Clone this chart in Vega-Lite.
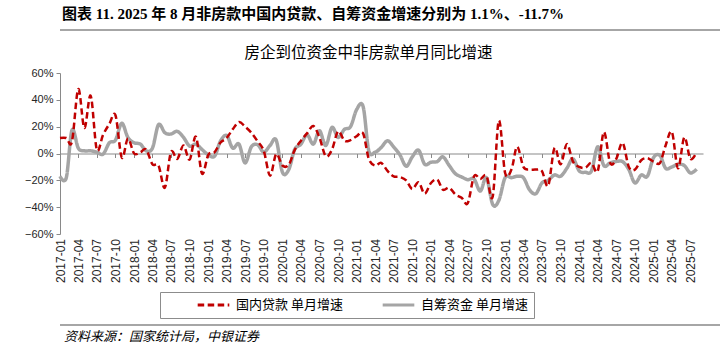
{
  "$schema": "https://vega.github.io/schema/vega-lite/v6.json",
  "padding": {"left": 18, "top": 7, "right": 0, "bottom": 0},
  "background": "white",
  "config": {
    "font": "Liberation Sans",
    "view": {"stroke": null},
    "axis": {"labelColor": "#262626", "domainColor": "#898989", "tickColor": "#898989", "grid": false},
    "legend": {"strokeWidth": 1}
  },
  "datasets": {
    "loans": [
      {"month":"2017-01","value":11.5},{"month":"2017-02","value":11.5},{"month":"2017-03","value":9},{"month":"2017-04","value":48},{"month":"2017-05","value":19},{"month":"2017-06","value":43},{"month":"2017-07","value":3},{"month":"2017-08","value":14},{"month":"2017-09","value":22},{"month":"2017-10","value":28.5},{"month":"2017-11","value":-3},{"month":"2017-12","value":11},
      {"month":"2018-01","value":0},{"month":"2018-02","value":1},{"month":"2018-03","value":3},{"month":"2018-04","value":-8},{"month":"2018-05","value":-9},{"month":"2018-06","value":-25.5},{"month":"2018-07","value":1},{"month":"2018-08","value":-4},{"month":"2018-09","value":6},{"month":"2018-10","value":-4.5},{"month":"2018-11","value":12.5},{"month":"2018-12","value":-15},
      {"month":"2019-01","value":-1},{"month":"2019-02","value":1},{"month":"2019-03","value":8},{"month":"2019-04","value":11.5},{"month":"2019-05","value":18},{"month":"2019-06","value":23.5},{"month":"2019-07","value":20},{"month":"2019-08","value":15.5},{"month":"2019-09","value":9},{"month":"2019-10","value":2},{"month":"2019-11","value":-16.5},{"month":"2019-12","value":-0.5},
      {"month":"2020-01","value":-9},{"month":"2020-02","value":-8.5},{"month":"2020-03","value":2.5},{"month":"2020-04","value":9.5},{"month":"2020-05","value":15},{"month":"2020-06","value":20.5},{"month":"2020-07","value":12},{"month":"2020-08","value":-2},{"month":"2020-09","value":3},{"month":"2020-10","value":16.5},{"month":"2020-11","value":9.5},{"month":"2020-12","value":10},
      {"month":"2021-01","value":13},{"month":"2021-02","value":15},{"month":"2021-03","value":-4},{"month":"2021-04","value":-9},{"month":"2021-05","value":-7},{"month":"2021-06","value":-13},{"month":"2021-07","value":-17},{"month":"2021-08","value":-17.5},{"month":"2021-09","value":-20},{"month":"2021-10","value":-26.5},{"month":"2021-11","value":-21.5},{"month":"2021-12","value":-30},
      {"month":"2022-01","value":-22},{"month":"2022-02","value":-19.5},{"month":"2022-03","value":-27},{"month":"2022-04","value":-25.5},{"month":"2022-05","value":-30.5},{"month":"2022-06","value":-33},{"month":"2022-07","value":-37},{"month":"2022-08","value":-17},{"month":"2022-09","value":-19},{"month":"2022-10","value":-16.5},{"month":"2022-11","value":-32},{"month":"2022-12","value":24.5},
      {"month":"2023-01","value":-14.5},{"month":"2023-02","value":-12},{"month":"2023-03","value":5},{"month":"2023-04","value":-10},{"month":"2023-05","value":-12},{"month":"2023-06","value":-12},{"month":"2023-07","value":-13},{"month":"2023-08","value":-24},{"month":"2023-09","value":4},{"month":"2023-10","value":-8},{"month":"2023-11","value":7},{"month":"2023-12","value":-6},
      {"month":"2024-01","value":-10},{"month":"2024-02","value":-10.5},{"month":"2024-03","value":-7},{"month":"2024-04","value":-13},{"month":"2024-05","value":16},{"month":"2024-06","value":-7},{"month":"2024-07","value":-4},{"month":"2024-08","value":8},{"month":"2024-09","value":-10},{"month":"2024-10","value":-12},{"month":"2024-11","value":-5},{"month":"2024-12","value":-3.5},
      {"month":"2025-01","value":-6},{"month":"2025-02","value":-7},{"month":"2025-03","value":6},{"month":"2025-04","value":16},{"month":"2025-05","value":-11},{"month":"2025-06","value":12},{"month":"2025-07","value":-4},{"month":"2025-08","value":1.1}
    ],
    "selfraised": [
      {"month":"2017-01","value":-17},{"month":"2017-02","value":-18},{"month":"2017-03","value":17.5},{"month":"2017-04","value":4},{"month":"2017-05","value":2},{"month":"2017-06","value":2},{"month":"2017-07","value":1},{"month":"2017-08","value":-0.5},{"month":"2017-09","value":8},{"month":"2017-10","value":10},{"month":"2017-11","value":22.5},{"month":"2017-12","value":12},
      {"month":"2018-01","value":8},{"month":"2018-02","value":7},{"month":"2018-03","value":2},{"month":"2018-04","value":4},{"month":"2018-05","value":21.5},{"month":"2018-06","value":15.5},{"month":"2018-07","value":14.5},{"month":"2018-08","value":16.5},{"month":"2018-09","value":12},{"month":"2018-10","value":5.5},{"month":"2018-11","value":7},{"month":"2018-12","value":3},
      {"month":"2019-01","value":-1},{"month":"2019-02","value":-2},{"month":"2019-03","value":9},{"month":"2019-04","value":13.5},{"month":"2019-05","value":4},{"month":"2019-06","value":7},{"month":"2019-07","value":-7},{"month":"2019-08","value":5},{"month":"2019-09","value":6.5},{"month":"2019-10","value":1},{"month":"2019-11","value":6},{"month":"2019-12","value":10},
      {"month":"2020-01","value":-14},{"month":"2020-02","value":-12},{"month":"2020-03","value":3},{"month":"2020-04","value":7},{"month":"2020-05","value":14},{"month":"2020-06","value":7},{"month":"2020-07","value":17},{"month":"2020-08","value":6},{"month":"2020-09","value":19.5},{"month":"2020-10","value":12},{"month":"2020-11","value":18},{"month":"2020-12","value":20},
      {"month":"2021-01","value":33},{"month":"2021-02","value":35},{"month":"2021-03","value":2},{"month":"2021-04","value":1},{"month":"2021-05","value":4.5},{"month":"2021-06","value":9.5},{"month":"2021-07","value":5},{"month":"2021-08","value":-1},{"month":"2021-09","value":-9.5},{"month":"2021-10","value":-2.5},{"month":"2021-11","value":2.5},{"month":"2021-12","value":-8},
      {"month":"2022-01","value":-6.5},{"month":"2022-02","value":-6},{"month":"2022-03","value":-2.5},{"month":"2022-04","value":-9},{"month":"2022-05","value":-15},{"month":"2022-06","value":-17.5},{"month":"2022-07","value":-19.5},{"month":"2022-08","value":-19},{"month":"2022-09","value":-28},{"month":"2022-10","value":-18},{"month":"2022-11","value":-38},{"month":"2022-12","value":-35},
      {"month":"2023-01","value":-18},{"month":"2023-02","value":-18},{"month":"2023-03","value":-17},{"month":"2023-04","value":-18},{"month":"2023-05","value":-27},{"month":"2023-06","value":-30},{"month":"2023-07","value":-22},{"month":"2023-08","value":-20},{"month":"2023-09","value":-16},{"month":"2023-10","value":-17},{"month":"2023-11","value":-11},{"month":"2023-12","value":-4},
      {"month":"2024-01","value":-13},{"month":"2024-02","value":-14},{"month":"2024-03","value":-13},{"month":"2024-04","value":5},{"month":"2024-05","value":-9},{"month":"2024-06","value":-7},{"month":"2024-07","value":-6},{"month":"2024-08","value":-6},{"month":"2024-09","value":-12},{"month":"2024-10","value":-22},{"month":"2024-11","value":-16},{"month":"2024-12","value":-17},
      {"month":"2025-01","value":-3},{"month":"2025-02","value":-1.5},{"month":"2025-03","value":-11},{"month":"2025-04","value":-10},{"month":"2025-05","value":-8},{"month":"2025-06","value":-9},{"month":"2025-07","value":-14.5},{"month":"2025-08","value":-11.7}
    ]
  },
  "columns": 1,
  "align": "none",
  "spacing": 14,
  "concat": [
    {
      "width": 702,
      "height": 2,
      "view": {"fill": "#a6a6a6", "stroke": null},
      "title": {"text": "图表 11. 2025 年 8 月非房款中国内贷款、自筹资金增速分别为 1.1%、-11.7%", "anchor": "start", "font": "Liberation Serif, Noto Sans CJK SC", "fontSize": 15, "fontWeight": "bold", "color": "#000000", "offset": 7, "dx": 2},
      "data": {"values": []},
      "mark": "rule",
      "encoding": {}
    },
    {
      "columns": 1,
      "align": "none",
      "spacing": 41,
      "concat": [
        {
          "width": 643,
          "height": 161,
          "title": {"text": "房企到位资金中非房款单月同比增速", "anchor": "middle", "font": "Noto Sans CJK SC", "fontSize": 15.5, "fontWeight": "normal", "color": "#000000", "offset": 6, "dx": -13},
          "encoding": {
            "x": {
              "field": "month", "type": "temporal",
              "scale": {"type": "utc", "nice": false, "domain": [{"year": 2017, "month": 1, "date": 1, "utc": true}, {"year": 2025, "month": 9, "date": 1, "utc": true}]},
              "axis": {"title": null, "format": "%Y-%m", "labelAngle": -90, "tickCount": {"interval": "month", "step": 3}, "offset": -80.5, "tickSize": 4, "labelPadding": 81, "labelFontSize": 12, "labelOverlap": false, "labelFlush": false, "labelBound": false}
            },
            "y": {
              "field": "value", "type": "quantitative",
              "scale": {"domain": [-60, 60], "nice": false},
              "axis": {"title": null, "values": [-60, -40, -20, 0, 20, 40, 60], "labelExpr": "format(datum.value, 'd') + '%'", "tickSize": 4, "labelPadding": 3, "labelFontSize": 11, "minExtent": 42, "maxExtent": 42}
            }
          },
          "layer": [
            {
              "data": {"name": "selfraised"},
              "mark": {"type": "line", "interpolate": "cardinal", "strokeWidth": 3.5},
              "encoding": {
                "color": {"datum": "自筹资金 单月增速", "type": "nominal", "scale": {"domain": ["国内贷款 单月增速", "自筹资金 单月增速"], "range": ["#C00000", "#A5A5A5"]},
                  "legend": {"title": null, "orient": "none", "legendX": 100, "legendY": 263, "direction": "horizontal", "symbolType": "stroke", "symbolSize": 1000, "symbolStrokeWidth": 3, "clipHeight": 14, "labelFont": "Noto Sans CJK SC", "labelFontSize": 13, "labelColor": "#000000", "strokeColor": "#8c8c8c", "padding": 6, "columnPadding": 8, "symbolOffset": 30, "labelOffset": 5}},
                "strokeDash": {"datum": "自筹资金 单月增速", "type": "nominal", "scale": {"domain": ["国内贷款 单月增速", "自筹资金 单月增速"], "range": [[6.5, 3.5], [1, 0]]}}
              }
            },
            {
              "data": {"name": "loans"},
              "mark": {"type": "line", "interpolate": "cardinal", "strokeWidth": 2.5},
              "encoding": {
                "color": {"datum": "国内贷款 单月增速", "type": "nominal"},
                "strokeDash": {"datum": "国内贷款 单月增速", "type": "nominal"}
              }
            }
          ]
        },
        {
          "width": 702,
          "height": 2,
          "view": {"fill": "#a6a6a6", "stroke": null},
          "title": {"text": "资料来源：国家统计局，中银证券", "orient": "bottom", "anchor": "start", "font": "Noto Sans CJK SC", "fontSize": 13, "fontStyle": "italic", "fontWeight": "normal", "color": "#000000", "offset": 5, "dx": 4},
          "data": {"values": []},
          "mark": "rule",
          "encoding": {}
        }
      ]
    }
  ]
}
